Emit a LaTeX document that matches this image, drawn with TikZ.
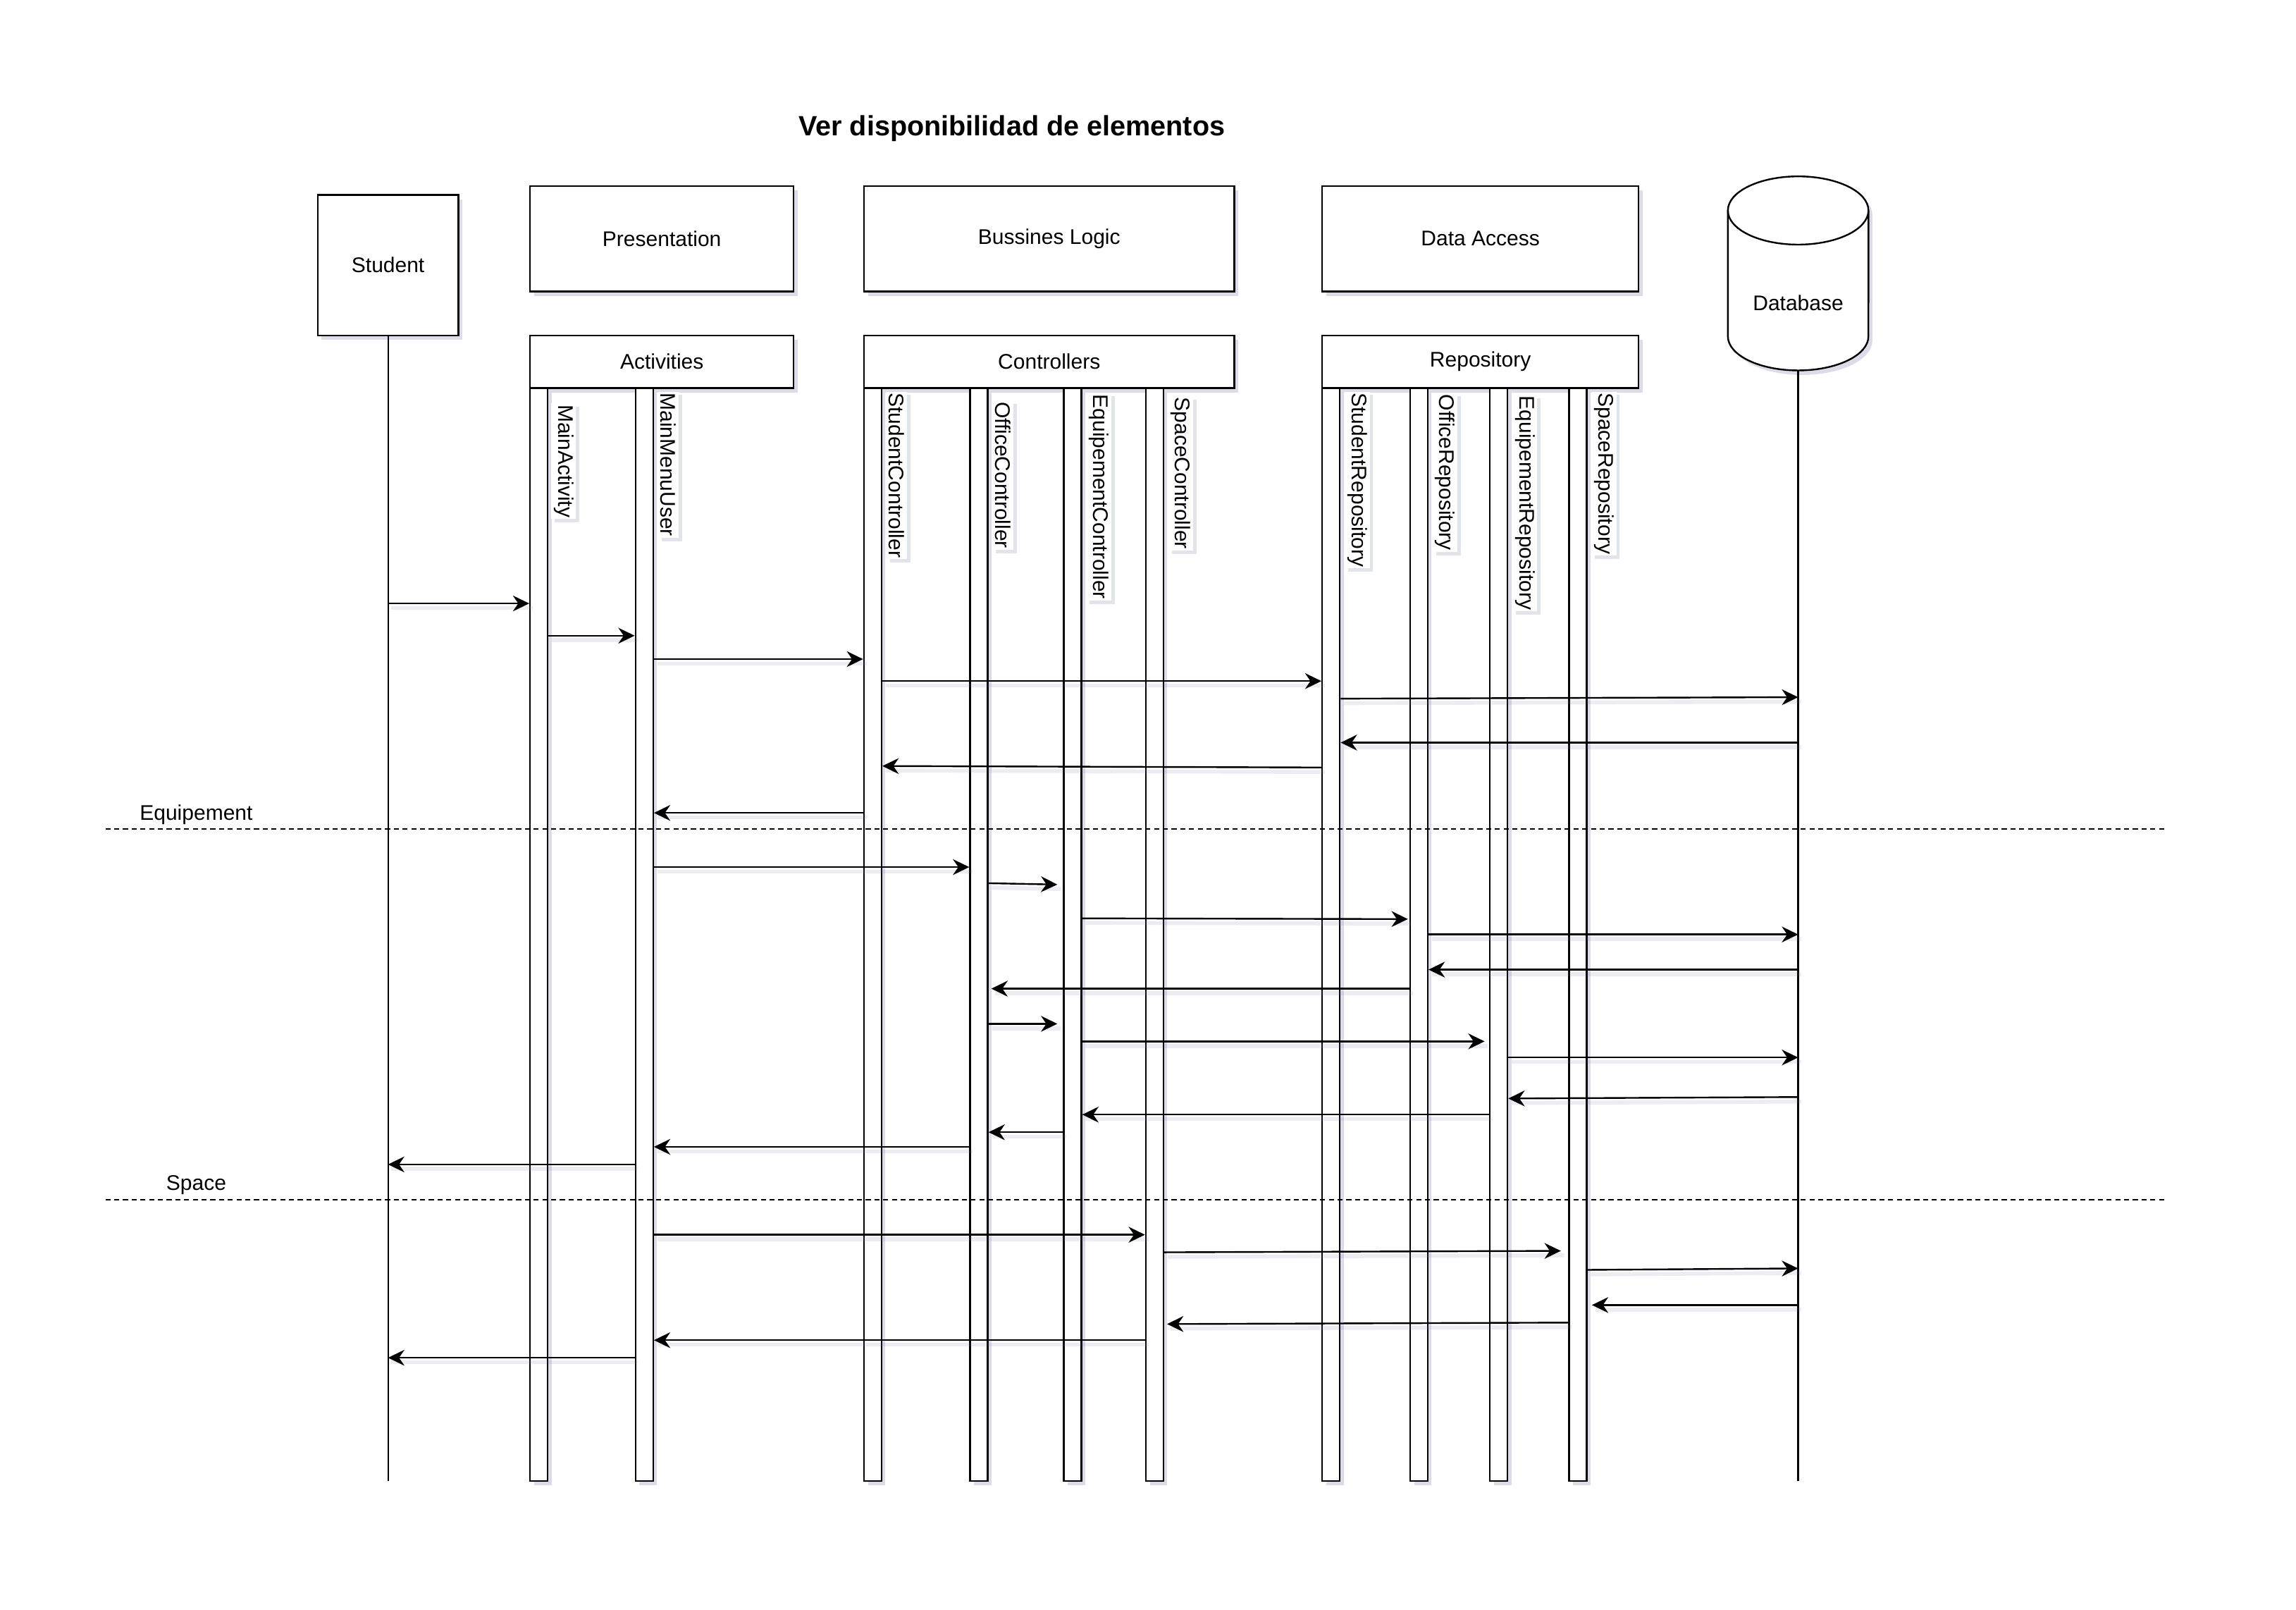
\documentclass[tikz,border=0pt]{standalone}
\usepackage{fontspec}
\setmainfont{Liberation Sans}
\usetikzlibrary{arrows.meta,shadows,fit,calc}
\definecolor{shadowc}{RGB}{125,130,170}
\tikzset{
  lbl/.style={font=\fontsize{7.5}{9}\selectfont},
  shad/.style={drop shadow={shadow xshift=1.4pt, shadow yshift=-1.6pt, fill=shadowc, opacity=0.28}},
  box/.style={draw=black, line width=0.6pt, fill=white, inner sep=0pt, shad, lbl},
  bar/.style={box},
  vlabel/.style={rotate=-90, anchor=south west, fill=white, inner xsep=0.5pt, inner ysep=0.9pt, lbl,
    drop shadow={shadow xshift=1.2pt, shadow yshift=-1.2pt, fill=shadowc, opacity=0.22}},
  msg/.style={draw=black, line width=0.6pt, -{Stealth[length=5.8pt,width=5.6pt,inset=1.9pt]},
    preaction={draw=shadowc, line width=1.4pt, opacity=0.15, -, transform canvas={shift={(1.2pt,-1.6pt)}}}},
  life/.style={draw=black, line width=0.55pt},
  sepline/.style={draw=black, line width=0.55pt, dash pattern=on 1.8pt off 1.3pt},
  seplabel/.style={fill=white, inner sep=0.6pt, lbl},
}
\begin{document}
\begin{tikzpicture}[x=0.51945pt, y=-0.51945pt]
\useasboundingbox (0,0) rectangle (1568,1099);

% title
\node[font=\fontsize{9.9}{12}\selectfont\bfseries] (title) at (691,87.5) {Ver disponibilidad de elementos};

% actor
\node[box, fit={(217,133) (313,229)}, label={[lbl]center:Student}] (student) {};
\coordinate (stend) at (265,1011);

% layer headers
\node[box, fit={(362,127) (542,199)}, label={[lbl]center:Presentation}] (pres) {};
\node[box, fit={(590,127) (843,199)}, label={[lbl]center:Bussines Logic}] (blogic) {};
\node[box, fit={(903,127) (1119,199)}, label={[lbl]center:Data Access}] (daccess) {};

\node[box, fit={(362,229) (542,265)}, label={[lbl]center:Activities}] (activities) {};
\node[box, fit={(590,229) (843,265)}, label={[lbl]center:Controllers}] (controllers) {};
\node[box, fit={(903,229) (1119,265)}, label={[lbl]center:Repository}] (repository) {};

% database
\draw[line width=0.6pt, fill=white, shad]
  (1180,143.7) -- (1180,229.6)
  arc[start angle=180, end angle=360, x radius=24.93pt, y radius=12.1pt]
  -- (1276,143.7)
  arc[start angle=0, end angle=180, x radius=24.93pt, y radius=12.1pt] -- cycle;
\draw[line width=0.6pt] (1180,143.7) arc[start angle=180, end angle=360, x radius=24.93pt, y radius=12.1pt];
\node[lbl] (db) at (1228,207) {Database};
\coordinate (dbtop) at (1228,253);
\coordinate (dbend) at (1228,1011);

% lifelines
\draw[life] (student.south) -- (stend);
\draw[life] (dbtop) -- (dbend);

% bars
\node[bar, fit={(362,265) (374,1011)}] (ma) {};
\node[bar, fit={(434,265) (446,1011)}] (mmu) {};
\node[bar, fit={(590,265) (602,1011)}] (stc) {};
\node[bar, fit={(662.5,265) (674.5,1011)}] (ofc) {};
\node[bar, fit={(726.5,265) (738.5,1011)}] (eqc) {};
\node[bar, fit={(782.5,265) (794.5,1011)}] (spc) {};
\node[bar, fit={(903,265) (915,1011)}] (str) {};
\node[bar, fit={(963,265) (975,1011)}] (ofr) {};
\node[bar, fit={(1017.5,265) (1029.5,1011)}] (eqr) {};
\node[bar, fit={(1071.5,265) (1083.5,1011)}] (spr) {};

% vertical labels
\node[vlabel] (lma) at ($(ma.east |- 0,275)+(1.5,0)$) {MainActivity};
\node[vlabel] (lmmu) at ($(mmu.east |- 0,267)+(2.5,0)$) {MainMenuUser};
\node[vlabel] (lstc) at ($(stc.east |- 0,267)+(2.5,0)$) {StudentController};
\node[vlabel] (lofc) at ($(ofc.east |- 0,273)+(2.5,0)$) {OfficeController};
\node[vlabel] (leqc) at ($(eqc.east |- 0,268)+(2.5,0)$) {EquipementController};
\node[vlabel] (lspc) at ($(spc.east |- 0,270)+(2.5,0)$) {SpaceController};
\node[vlabel] (lstr) at ($(str.east |- 0,267)+(2.5,0)$) {StudentRepository};
\node[vlabel] (lofr) at ($(ofr.east |- 0,268)+(2.5,0)$) {OfficeRepository};
\node[vlabel] (leqr) at ($(eqr.east |- 0,269)+(2.5,0)$) {EquipementRepository};
\node[vlabel] (lspr) at ($(spr.east |- 0,267)+(2.5,0)$) {SpaceRepository};

% separators
\coordinate (sepAl) at (72,566);
\coordinate (sepAr) at (1478,566);
\coordinate (sepBl) at (72,819);
\coordinate (sepBr) at (1478,819);
\draw[sepline] (sepAl) -- (sepAr);
\draw[sepline] (sepBl) -- (sepBr);
\node[seplabel] (equip) at (134,556) {Equipement};
\node[seplabel] (space) at (134,809) {Space};

% messages: login
\draw[msg] (student.south |- 0,412) -- (ma.west |- 0,412);
\draw[msg] (ma.east |- 0,434) -- (mmu.west |- 0,434);
\draw[msg] (mmu.east |- 0,450) -- (stc.west |- 0,450);
\draw[msg] (stc.east |- 0,465) -- (str.west |- 0,465);
\draw[msg] (str.east |- 0,477) -- (dbtop |- 0,476);
\draw[msg] (dbtop |- 0,507) -- (str.east |- 0,507);
\draw[msg] (str.west |- 0,524) -- (stc.east |- 0,523);
\draw[msg] (stc.west |- 0,555) -- (mmu.east |- 0,555);

% messages: equipement
\draw[msg] (mmu.east |- 0,592) -- (ofc.west |- 0,592);
\draw[msg, shorten >=2pt] (ofc.east |- 0,603) -- (eqc.west |- 0,604);
\draw[msg, shorten >=0.5pt] (eqc.east |- 0,627) -- (ofr.west |- 0,627.5);
\draw[msg] (ofr.east |- 0,638) -- (dbtop |- 0,638);
\draw[msg] (dbtop |- 0,662) -- (ofr.east |- 0,662);
\draw[msg, shorten >=1pt] (ofr.west |- 0,675) -- (ofc.east |- 0,675);
\draw[msg, shorten >=2pt] (ofc.east |- 0,699) -- (eqc.west |- 0,699);
\draw[msg, shorten >=1.6pt] (eqc.east |- 0,711) -- (eqr.west |- 0,711);
\draw[msg] (eqr.east |- 0,722) -- (dbtop |- 0,722);
\draw[msg] (dbtop |- 0,749) -- (eqr.east |- 0,750);
\draw[msg] (eqr.west |- 0,761) -- (eqc.east |- 0,761);
\draw[msg] (eqc.west |- 0,773) -- (ofc.east |- 0,773);
\draw[msg] (ofc.west |- 0,783) -- (mmu.east |- 0,783);
\draw[msg] (mmu.west |- 0,795) -- (student.south |- 0,795);

% messages: space
\draw[msg] (mmu.east |- 0,843) -- (spc.west |- 0,843);
\draw[msg, shorten >=2.6pt] (spc.east |- 0,855) -- (spr.west |- 0,854);
\draw[msg] (spr.east |- 0,867) -- (dbtop |- 0,866);
\draw[msg, shorten >=1.6pt] (dbtop |- 0,891) -- (spr.east |- 0,891);
\draw[msg, shorten >=1pt] (spr.west |- 0,903) -- (spc.east |- 0,904);
\draw[msg] (spc.west |- 0,915) -- (mmu.east |- 0,915);
\draw[msg] (mmu.west |- 0,927) -- (student.south |- 0,927);
\end{tikzpicture}
\end{document}
